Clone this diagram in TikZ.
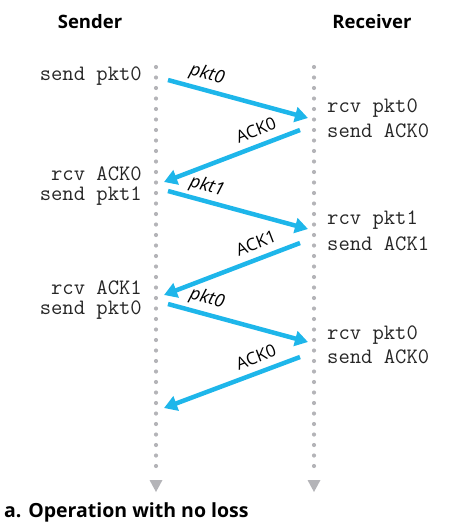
\documentclass[tikz,border=0pt]{standalone}
\usepackage{fontspec}
\setmainfont{Open Sans}
\usetikzlibrary{arrows.meta}
\definecolor{msgblue}{HTML}{1EB6EA}
\definecolor{lifegray}{HTML}{B4B4B8}
\begin{document}
\begin{tikzpicture}[x=1pt,y=-1pt,
    lifeline/.style={lifegray,line width=4.2pt,line cap=round,dash pattern=on 0pt off 10.5pt},
    msg/.style={msgblue,line width=4.5pt,-{Triangle[width=15pt,length=13pt]}},
    evt/.style={font=\fontsize{22}{25}\selectfont\ttfamily,text=black!85,inner sep=0pt},
    sendlbl/.style={evt,anchor=east},
    rcvlbl/.style={evt,anchor=west},
    pktlbl/.style={font=\fontsize{18}{21}\selectfont\itshape,inner sep=0pt},
    acklbl/.style={font=\fontsize{17}{20}\selectfont,inner sep=0pt},
    head/.style={font=\fontsize{18.5}{22}\selectfont\bfseries,inner sep=0pt}]
        
        \useasboundingbox (0,0) rectangle (456,528);
        
        % time lines
        \draw[lifeline] (156,67) -- (156,474);
        \draw[lifeline] (314,67) -- (314,474);
        \fill[lifegray] (149.5,480) -- (162.5,480) -- (156,492) -- cycle;
        \fill[lifegray] (307.5,480) -- (320.5,480) -- (314,492) -- cycle;
        
        \node[head] (sender) at (90,22) {Sender};
        \node[head] (receiver) at (372,22) {Receiver};
        
        % sender side
        \node[sendlbl] (snd0) at (142,76) {send pkt0};
        \node[sendlbl] (rack0) at (142,174) {rcv ACK0};
        \node[sendlbl] (snd1) at (142,196) {send pkt1};
        \node[sendlbl] (rack1) at (142,288) {rcv ACK1};
        \node[sendlbl] (snd2) at (142,310) {send pkt0};
        
        % receiver side
        \node[rcvlbl] (rpkt0) at (327,108) {rcv pkt0};
        \node[rcvlbl] (sack0) at (327,131) {send ACK0};
        \node[rcvlbl] (rpkt1) at (327,220) {rcv pkt1};
        \node[rcvlbl] (sack1) at (327,244) {send ACK1};
        \node[rcvlbl] (rpkt2) at (327,335) {rcv pkt0};
        \node[rcvlbl] (sack2) at (327,357) {send ACK0};
        
        % message ends on the time lines
        \coordinate (a1) at (168,80);  \coordinate (b1) at (308,118);
        \coordinate (b2) at (300,130); \coordinate (a2) at (164,182);
        \coordinate (a3) at (168,191); \coordinate (b3) at (308,229);
        \coordinate (b4) at (300,243); \coordinate (a4) at (164,295);
        \coordinate (a5) at (168,304); \coordinate (b5) at (308,342);
        \coordinate (b6) at (300,357); \coordinate (a6) at (164,408);
        
        \draw[msg] (a1) -- (b1);
        \draw[msg] (b2) -- (a2);
        \draw[msg] (a3) -- (b3);
        \draw[msg] (b4) -- (a4);
        \draw[msg] (a5) -- (b5);
        \draw[msg] (b6) -- (a6);
        
        \node[pktlbl,rotate=-15] (l1) at (207,75) {pkt0};
        \node[acklbl,rotate=21] (l2) at (256,130) {ACK0};
        \node[pktlbl,rotate=-15] (l3) at (207,187) {pkt1};
        \node[acklbl,rotate=21] (l4) at (256,243) {ACK1};
        \node[pktlbl,rotate=-15] (l5) at (207,299) {pkt0};
        \node[acklbl,rotate=21] (l6) at (256,357) {ACK0};
        
        \node[head,font=\fontsize{19.5}{23}\selectfont\bfseries,anchor=west] (caption) at (4,512) {a. Operation with no loss};
        
\end{tikzpicture}
\end{document}
